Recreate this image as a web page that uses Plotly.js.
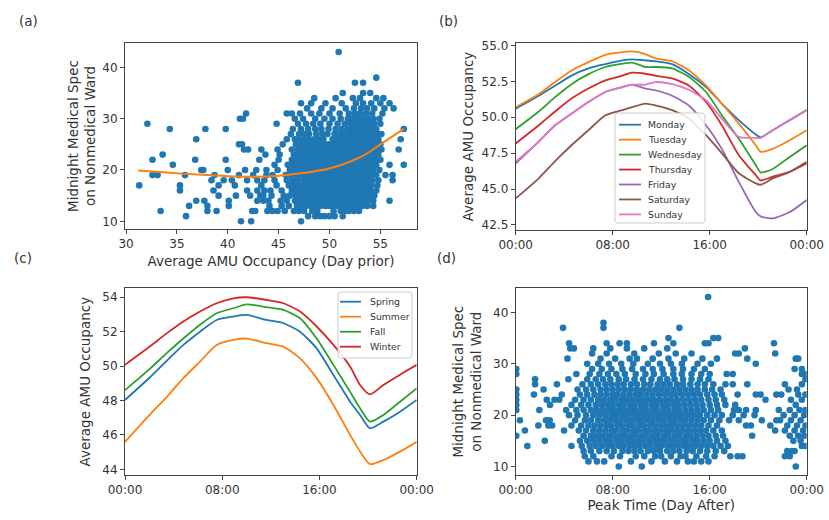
<!DOCTYPE html>
<html><head><meta charset="utf-8">
<script src="https://cdn.plot.ly/plotly-3.0.1.min.js"></script>
<style>html,body{margin:0;padding:0;background:#fff}#chart{width:829px;height:520px}</style>
</head><body><div id="chart"></div>
<script>
// ---------- (a) Midnight medical spec vs average AMU occupancy (day prior) ----------
// rows: [y value, [x values]]
const aRows = [
 [10, [41.3, 42.3, 47.2]],
 [11, [35.9, 47.9, 48.6, 49.1, 49.5, 50.0, 50.5, 51.3]],
 [12, [33.4, 38.0, 38.9, 42.4, 42.7, 43.9, 44.4, 44.9, 45.6, 46.5, 47.0, 47.5, 48.3, 48.8, 50.4, 51.1, 51.5, 51.9, 52.4, 52.9]],
 [13, [36.2, 38.0, 40.1, 44.1, 45.3, 46.0, 46.8, 47.3, 47.7, 48.2, 48.7, 49.1, 49.6, 50.0, 50.5, 50.9, 51.4, 51.8, 52.2, 52.7, 53.2, 53.7, 54.3]],
 [14, [36.9, 37.7, 40.1, 42.9, 43.5, 44.0, 45.2, 45.8, 46.6, 47.1, 47.5, 47.9, 48.4, 48.8, 49.3, 49.7, 50.1, 50.6, 51.0, 51.5, 51.9, 52.4, 52.8, 53.3, 53.8, 54.3, 55.9]],
 [15, [39.1, 40.8, 42.2, 43.2, 43.5, 44.3, 45.5, 46.1, 46.7, 47.2, 47.6, 48.0, 48.5, 48.9, 49.4, 49.8, 50.2, 50.7, 51.1, 51.6, 52.0, 52.5, 52.9, 53.4, 53.9, 54.4]],
 [16, [35.3, 38.6, 41.9, 42.9, 43.6, 44.2, 45.3, 46.3, 46.8, 47.3, 47.7, 48.1, 48.6, 49.0, 49.5, 49.9, 50.3, 50.8, 51.2, 51.7, 52.1, 52.6, 53.0, 53.5, 54.0, 54.6]],
 [17, [31.3, 35.3, 39.1, 40.7, 43.3, 44.8, 46.0, 46.5, 47.0, 47.4, 47.9, 48.3, 48.8, 49.2, 49.7, 50.1, 50.6, 51.0, 51.4, 51.9, 52.3, 52.8, 53.2, 53.7, 54.1, 54.7]],
 [18, [38.4, 39.6, 40.4, 41.9, 42.9, 43.6, 44.6, 45.8, 46.4, 46.9, 47.5, 47.9, 48.4, 48.8, 49.3, 49.7, 50.2, 50.6, 51.1, 51.5, 52.0, 52.4, 52.9, 53.3, 53.8, 54.2, 54.8, 56.2]],
 [19, [32.6, 33.1, 35.8, 38.7, 41.1, 42.5, 43.8, 44.4, 45.7, 46.2, 46.8, 47.3, 47.8, 48.2, 48.7, 49.1, 49.6, 50.0, 50.5, 50.9, 51.4, 51.8, 52.3, 52.7, 53.2, 53.6, 54.1, 54.6, 55.5, 56.2]],
 [20, [37.4, 37.6, 40.0, 41.7, 42.8, 43.8, 44.9, 46.1, 46.6, 47.1, 47.6, 48.0, 48.5, 48.9, 49.4, 49.8, 50.3, 50.7, 51.2, 51.6, 52.1, 52.5, 53.0, 53.4, 53.9, 54.3, 54.9]],
 [21, [34.6, 44.6, 45.9, 46.4, 46.9, 47.4, 47.8, 48.3, 48.7, 49.2, 49.6, 50.1, 50.5, 51.0, 51.4, 51.9, 52.3, 52.8, 53.2, 53.7, 54.1, 54.6, 55.9, 57.3]],
 [22, [32.6, 36.8, 39.8, 43.1, 45.0, 46.3, 46.8, 47.3, 47.7, 48.2, 48.6, 49.1, 49.5, 50.0, 50.4, 50.9, 51.3, 51.8, 52.2, 52.7, 53.1, 53.6, 54.0, 54.5, 55.0]],
 [23, [33.6, 43.7, 45.1, 46.5, 47.0, 47.5, 48.0, 48.4, 48.9, 49.3, 49.8, 50.2, 50.7, 51.1, 51.6, 52.0, 52.5, 52.9, 53.4, 53.8, 54.3, 54.8]],
 [24, [41.6, 42.0, 43.3, 44.9, 46.3, 46.9, 47.4, 47.9, 48.3, 48.8, 49.2, 49.7, 50.1, 50.6, 51.0, 51.5, 51.9, 52.4, 52.8, 53.3, 53.7, 54.2, 54.7, 55.1, 56.8]],
 [25, [41.1, 41.4, 45.4, 46.7, 47.2, 47.7, 48.1, 48.6, 49.0, 49.5, 49.9, 50.4, 50.8, 51.3, 51.7, 52.2, 52.6, 53.1, 53.5, 54.0, 54.5, 55.0]],
 [26, [36.9, 45.8, 46.6, 47.1, 47.6, 48.0, 48.5, 48.9, 49.4, 50.3, 50.7, 51.2, 51.6, 52.1, 52.5, 53.0, 53.4, 53.9, 54.3, 54.8, 57.0]],
 [27, [46.2, 47.0, 47.5, 48.0, 48.7, 49.3, 49.8, 50.5, 51.0, 51.5, 52.0, 52.4, 52.9, 53.3, 53.8, 54.2, 54.7, 55.1]],
 [28, [34.3, 37.8, 39.8, 46.4, 47.2, 47.9, 48.6, 49.2, 49.9, 50.6, 51.2, 51.8, 52.3, 52.8, 53.2, 53.7, 54.1, 54.6, 57.3]],
 [29, [32.1, 44.8, 46.9, 47.7, 48.4, 49.1, 50.0, 50.8, 51.5, 52.1, 52.6, 53.1, 53.5, 54.0, 54.4, 55.0]],
 [30, [41.2, 41.5, 46.6, 47.4, 48.6, 49.5, 50.3, 51.1, 51.8, 52.3, 52.8, 53.3, 53.8, 54.3, 54.9]],
 [31, [41.8, 45.8, 46.3, 47.1, 48.2, 49.0, 50.0, 51.0, 51.9, 52.5, 53.0, 53.6, 54.2, 55.2]],
 [32, [47.8, 49.2, 50.3, 51.6, 52.4, 53.1, 53.7, 54.4, 55.4, 56.3]],
 [33, [47.2, 48.2, 49.6, 51.2, 52.6, 53.3, 54.1, 55.0, 55.9]],
 [34, [48.5, 50.6, 52.3, 53.0, 54.6, 55.3]],
 [35, [51.3, 53.3, 54.0]],
 [37, [46.9, 52.5, 53.3]],
 [38, [54.6]],
 [43, [50.9]]
];
const aFitX = [31.2, 34, 37, 40, 43, 45, 47, 49, 50.2, 52, 53.5, 55, 57.3];
const aFitY = [19.9, 19.5, 19.1, 18.8, 18.7, 18.9, 19.3, 19.9, 20.4, 21.6, 23.0, 25.0, 28.0];

// ---------- (b) average AMU occupancy by weekday ----------
const bHours = [0, 1.9, 3.25, 4.6, 6, 7.4, 8.8, 9.6, 10.7, 11.5, 12.9, 14.3, 15.7, 17.0, 18.4, 19.8, 20.2, 21.2, 22.6, 24];
const bNames = ['Monday', 'Tuesday', 'Wednesday', 'Thursday', 'Friday', 'Saturday', 'Sunday'];
const monday    = [50.6, 51.5, 52.2, 52.9, 53.4, 53.7, 53.96, 54.03, 53.96, 53.9, 53.7, 53.0, 52.1, 50.95, 49.8, 48.8, 48.6, 49.1, 49.8, 50.5];
const tuesday   = [50.7, 51.6, 52.45, 53.26, 53.84, 54.35, 54.54, 54.58, 54.4, 54.1, 53.9, 53.26, 52.2, 50.95, 49.56, 48.05, 47.6, 47.8, 48.4, 49.1];
const wednesday = [49.17, 50.4, 51.4, 52.3, 53.0, 53.5, 53.73, 53.8, 53.5, 53.5, 53.4, 52.8, 51.76, 50.14, 48.5, 46.67, 46.16, 46.4, 47.24, 48.05];
const thursday  = [48.17, 49.44, 50.4, 51.3, 52.0, 52.57, 52.9, 53.1, 53.03, 52.9, 52.7, 52.2, 51.06, 49.44, 47.36, 45.97, 45.6, 45.86, 46.2, 46.78];
const friday    = [46.78, 48.3, 49.44, 50.25, 51.06, 51.76, 52.1, 52.27, 52.0, 51.88, 51.5, 50.8, 49.44, 47.8, 45.5, 43.4, 43.1, 42.96, 43.4, 44.24];
const saturday  = [44.35, 45.75, 46.95, 48.05, 49.1, 50.14, 50.5, 50.7, 50.95, 50.83, 50.5, 49.9, 48.75, 47.5, 46.1, 45.4, 45.3, 45.74, 46.2, 46.9];
const sunday    = [46.9, 48.3, 49.44, 50.25, 51.06, 51.76, 52.1, 52.27, 52.27, 52.45, 52.3, 51.9, 51.18, 49.9, 48.63, 48.56, 48.56, 49.1, 49.8, 50.5];

// ---------- (c) average AMU occupancy by season ----------
const cHours = [0, 2.06, 3.43, 4.8, 6.17, 7.54, 8.92, 10.0, 11.66, 13.03, 14.4, 15.77, 17.15, 18.52, 19.34, 20.16, 21.26, 22.63, 24];
const cNames = ['Spring', 'Summer', 'Fall', 'Winter'];
const spring = [48.03, 49.35, 50.3, 51.23, 52.0, 52.68, 52.88, 52.97, 52.68, 52.49, 52.0, 51.03, 49.48, 47.93, 47.16, 46.38, 46.77, 47.35, 48.03];
const summer = [45.6, 47.2, 48.2, 49.3, 50.26, 51.23, 51.52, 51.6, 51.33, 51.13, 50.45, 49.3, 47.74, 46.0, 45.03, 44.3, 44.54, 45.03, 45.6];
const fall   = [48.6, 49.85, 50.75, 51.6, 52.4, 53.07, 53.36, 53.58, 53.42, 53.26, 52.78, 51.6, 50.07, 48.5, 47.55, 46.77, 47.16, 47.93, 48.7];
const winter = [50.07, 51.15, 51.9, 52.59, 53.17, 53.65, 53.94, 54.0, 53.84, 53.65, 53.17, 52.3, 51.23, 49.97, 48.9, 48.35, 48.9, 49.5, 50.07];

// ---------- (d) midnight medical spec vs peak time (hours, day after) ----------
const dRows = [
 [10, [8.5, 10.4, 23.1]],
 [11, [6.0, 6.7, 7.3, 9.5, 11.2, 12.3, 13.3, 14.2, 14.7, 15.3, 15.9]],
 [12, [5.7, 6.4, 7.9, 8.6, 9.9, 10.6, 11.5, 12.0, 12.8, 13.6, 14.0, 14.9, 15.7, 16.4, 17.7, 18.3, 18.7, 22.2, 22.6]],
 [13, [5.6, 6.2, 6.9, 7.5, 8.1, 8.8, 9.3, 9.8, 10.3, 10.9, 11.4, 11.9, 12.5, 13.0, 13.5, 14.1, 14.6, 15.2, 15.8, 16.5, 17.2, 22.4, 22.8, 23.0]],
 [14, [0.96, 4.6, 5.45, 6.1, 6.6, 7.1, 7.6, 8.0, 8.5, 8.9, 9.4, 9.8, 10.2, 10.7, 11.1, 11.6, 12.0, 12.5, 12.9, 13.4, 13.9, 14.3, 14.8, 15.3, 15.8, 16.3, 16.9, 17.5, 23.6, 23.9]],
 [15, [2.4, 5.3, 5.9, 6.4, 6.9, 7.4, 7.8, 8.3, 8.7, 9.2, 9.6, 10.1, 10.5, 11.0, 11.4, 11.9, 12.3, 12.8, 13.2, 13.7, 14.1, 14.6, 15.0, 15.5, 16.0, 16.6, 17.3, 22.9, 23.5]],
 [16, [0.05, 5.6, 6.2, 6.7, 7.2, 7.7, 8.1, 8.6, 9.0, 9.5, 9.9, 10.4, 10.8, 11.3, 11.7, 12.2, 12.6, 13.1, 13.5, 14.0, 14.4, 14.9, 15.4, 15.9, 16.5, 17.1, 19.5, 22.6, 23.3, 23.8]],
 [17, [0.76, 3.99, 5.2, 5.8, 6.4, 6.9, 7.4, 7.9, 8.3, 8.8, 9.2, 9.7, 10.1, 10.6, 11.0, 11.5, 11.9, 12.4, 12.8, 13.3, 13.7, 14.2, 14.7, 15.2, 15.7, 16.3, 17.0, 21.4, 22.2, 23.0, 23.7]],
 [18, [1.87, 2.7, 3.0, 4.6, 5.4, 6.0, 6.5, 7.0, 7.5, 7.9, 8.4, 8.8, 9.3, 9.7, 10.2, 10.6, 11.1, 11.5, 12.0, 12.4, 12.9, 13.3, 13.8, 14.3, 14.8, 15.3, 15.9, 16.6, 19.0, 19.4, 21.0, 22.4, 23.2, 23.9]],
 [19, [0.35, 2.5, 2.8, 4.9, 5.7, 6.2, 6.8, 7.3, 7.7, 8.2, 8.6, 9.1, 9.5, 10.0, 10.4, 10.9, 11.3, 11.8, 12.2, 12.7, 13.1, 13.6, 14.0, 14.5, 15.0, 15.5, 16.1, 16.8, 17.6, 18.4, 20.3, 21.5, 21.8, 22.7, 23.5]],
 [20, [4.4, 5.1, 5.8, 6.4, 6.9, 7.4, 7.9, 8.3, 8.8, 9.2, 9.7, 10.1, 10.6, 11.0, 11.5, 11.9, 12.4, 12.8, 13.3, 13.7, 14.2, 14.7, 15.2, 15.8, 16.4, 17.0, 17.9, 18.8, 19.7, 22.1, 23.0, 23.8]],
 [21, [0.05, 1.95, 4.16, 5.0, 5.6, 6.2, 6.7, 7.2, 7.7, 8.1, 8.6, 9.0, 9.5, 9.9, 10.4, 10.8, 11.3, 11.7, 12.2, 12.6, 13.1, 13.5, 14.0, 14.5, 15.0, 15.5, 16.1, 16.7, 18.0, 18.4, 19.0, 19.8, 21.7, 22.6, 23.4, 23.9]],
 [22, [0.05, 2.83, 4.6, 5.4, 6.0, 6.6, 7.1, 7.6, 8.0, 8.5, 8.9, 9.4, 9.8, 10.3, 10.7, 11.2, 11.6, 12.1, 12.5, 13.0, 13.4, 13.9, 14.4, 14.9, 15.4, 16.0, 16.6, 17.3, 18.1, 23.1]],
 [23, [0.05, 2.56, 3.2, 3.6, 4.9, 5.6, 6.2, 6.8, 7.3, 7.8, 8.2, 8.7, 9.1, 9.6, 10.1, 10.5, 11.0, 11.4, 11.9, 12.4, 12.8, 13.3, 13.8, 14.3, 14.8, 15.3, 15.9, 16.5, 17.2, 20.6, 22.7, 23.6]],
 [24, [0.05, 1.5, 3.8, 5.3, 5.9, 6.5, 7.0, 7.5, 8.0, 8.4, 8.9, 9.4, 9.9, 10.3, 10.8, 11.3, 11.8, 12.3, 12.8, 13.2, 13.7, 14.2, 14.7, 15.2, 15.8, 16.4, 17.0, 18.3, 19.8, 20.2, 21.5, 21.9, 23.3, 23.9]],
 [25, [0.05, 2.3, 5.1, 5.8, 6.4, 7.0, 7.5, 8.0, 8.5, 9.0, 9.5, 10.0, 10.5, 11.0, 11.5, 12.0, 12.5, 13.0, 13.5, 14.0, 14.5, 15.0, 15.6, 16.2, 16.9, 22.5, 23.2]],
 [26, [1.6, 3.4, 5.5, 6.2, 6.8, 7.4, 7.9, 8.4, 8.9, 9.5, 10.0, 10.6, 11.1, 11.7, 12.2, 12.7, 13.3, 13.8, 14.4, 15.0, 15.6, 16.3, 17.3, 17.9, 19.1, 22.2, 23.6]],
 [27, [1.6, 4.35, 5.9, 6.6, 7.2, 7.8, 8.5, 9.1, 9.8, 10.5, 11.2, 11.9, 12.5, 13.1, 13.8, 14.5, 15.2, 15.9, 23.9]],
 [28, [0.05, 5.0, 6.1, 6.9, 7.6, 8.3, 9.0, 9.9, 10.7, 11.4, 12.2, 13.0, 13.7, 14.5, 15.3, 16.0, 17.4, 17.9, 23.6, 23.9]],
 [29, [0.05, 6.3, 7.1, 7.9, 8.8, 9.6, 10.5, 11.3, 12.1, 13.0, 13.8, 14.7, 15.6, 23.0, 23.6]],
 [30, [5.9, 6.8, 7.7, 8.7, 9.7, 10.9, 11.9, 12.8, 13.7, 15.0, 16.1, 19.8]],
 [31, [4.27, 7.0, 8.2, 9.4, 10.0, 11.3, 12.6, 13.9, 15.4, 16.6, 19.1, 23.1, 23.3]],
 [32, [6.3, 7.5, 9.78, 11.8, 13.2, 14.5, 18.1, 18.4, 21.4]],
 [33, [4.5, 4.8, 6.4, 7.8, 9.17, 10.6, 12.5, 18.9]],
 [34, [4.4, 7.5, 8.57, 9.17, 11.4, 13.0, 15.6, 15.9, 21.3]],
 [35, [12.6, 16.3, 16.7]],
 [37, [3.9, 7.24, 13.5]],
 [38, [7.24]],
 [43, [15.87]]
];

const timeTickVals = [0, 8, 16, 24];
const timeTickText = ['00:00', '08:00', '16:00', '00:00'];
const tab10 = ['#1f77b4', '#ff7f0e', '#2ca02c', '#d62728', '#9467bd', '#8c564b', '#e377c2'];

// ---------- build ----------
function flatten(rows) {
  const xs = [], ys = [];
  rows.forEach(r => r[1].forEach(x => { xs.push(x); ys.push(r[0]); }));
  return [xs, ys];
}
const [aX, aY] = flatten(aRows);
const [dX, dY] = flatten(dRows);

const W = 829, H = 520;
const fx = p => p / W, fy = p => 1 - p / H;
const FONT = 'DejaVu Sans', TXT = '#333', AX = '#444';
const DOT = 6.6;

const traces = [];
traces.push({type: 'scatter', mode: 'markers', x: aX, y: aY, xaxis: 'x', yaxis: 'y',
  marker: {color: tab10[0], size: DOT, line: {width: 0}}, showlegend: false, hoverinfo: 'skip'});
traces.push({type: 'scatter', mode: 'lines', x: aFitX, y: aFitY, xaxis: 'x', yaxis: 'y',
  line: {color: tab10[1], width: 2, shape: 'spline', smoothing: 0.8}, showlegend: false});
const bSeries = [monday, tuesday, wednesday, thursday, friday, saturday, sunday];
bSeries.forEach((s, i) => traces.push({type: 'scatter', mode: 'lines', name: bNames[i], x: bHours, y: s,
  xaxis: 'x2', yaxis: 'y2', line: {color: tab10[i], width: 1.8, shape: 'spline', smoothing: 0.6}, showlegend: false}));
const cSeries = [spring, summer, fall, winter];
cSeries.forEach((s, i) => traces.push({type: 'scatter', mode: 'lines', name: cNames[i], x: cHours, y: s,
  xaxis: 'x3', yaxis: 'y3', line: {color: tab10[i], width: 1.8, shape: 'spline', smoothing: 0.6}, showlegend: false}));
traces.push({type: 'scatter', mode: 'markers', x: dX, y: dY, xaxis: 'x4', yaxis: 'y4',
  marker: {color: tab10[0], size: DOT, line: {width: 0}}, showlegend: false, hoverinfo: 'skip'});

function axis(extra) {
  return Object.assign({
    showline: true, mirror: true, linecolor: AX, linewidth: 1,
    ticks: 'outside', ticklen: 4, tickwidth: 1, tickcolor: AX,
    showgrid: false, zeroline: false,
    tickfont: {family: FONT, size: 12, color: TXT}
  }, extra);
}
const titleFont = {family: FONT, size: 13.5, color: TXT};

// manual legends (matplotlib-style boxes)
const shapes = [], annotations = [];
function legend(names, colors, box, firstY, step, lineX0, lineX1, textX) {
  const [x0, y0, x1, y1] = box, r = 3;
  const path = `M ${fx(x0 + r)} ${fy(y0)} L ${fx(x1 - r)} ${fy(y0)} Q ${fx(x1)} ${fy(y0)} ${fx(x1)} ${fy(y0 + r)} ` +
    `L ${fx(x1)} ${fy(y1 - r)} Q ${fx(x1)} ${fy(y1)} ${fx(x1 - r)} ${fy(y1)} L ${fx(x0 + r)} ${fy(y1)} ` +
    `Q ${fx(x0)} ${fy(y1)} ${fx(x0)} ${fy(y1 - r)} L ${fx(x0)} ${fy(y0 + r)} Q ${fx(x0)} ${fy(y0)} ${fx(x0 + r)} ${fy(y0)} Z`;
  shapes.push({type: 'path', xref: 'paper', yref: 'paper', path: path,
    fillcolor: 'rgba(255,255,255,0.85)', line: {color: '#cccccc', width: 1}, layer: 'above'});
  names.forEach((n, i) => {
    const yy = firstY + i * step;
    shapes.push({type: 'line', xref: 'paper', yref: 'paper', x0: fx(lineX0), x1: fx(lineX1), y0: fy(yy), y1: fy(yy),
      line: {color: colors[i], width: 1.8}, layer: 'above'});
    annotations.push({xref: 'paper', yref: 'paper', x: fx(textX), y: fy(yy), xanchor: 'left', yanchor: 'middle',
      text: n, showarrow: false, font: {family: FONT, size: 9.3, color: TXT}});
  });
}
legend(bNames, tab10, [615, 113, 705, 223], 124.7, 14.95, 619, 641, 646);
legend(cNames, tab10, [338, 292, 412, 358], 301.7, 15, 340, 361, 368);

// panel labels
[['(a)', 16.7, 21], ['(b)', 436.7, 21], ['(c)', 11.7, 258], ['(d)', 435, 258]].forEach(p => {
  annotations.push({xref: 'paper', yref: 'paper', x: fx(p[1]), y: fy(p[2]), xanchor: 'left', yanchor: 'middle',
    text: p[0], showarrow: false, font: {family: FONT, size: 13.5, color: TXT}});
});

const layout = {
  width: W, height: H, margin: {l: 0, r: 0, t: 0, b: 0},
  paper_bgcolor: '#fff', plot_bgcolor: '#fff', showlegend: false,
  font: {family: FONT, color: TXT},
  xaxis: axis({domain: [fx(125), fx(417)], anchor: 'y', range: [29.9, 58.6], tickvals: [30, 35, 40, 45, 50, 55],
    title: {text: 'Average AMU Occupancy (Day prior)', font: titleFont, standoff: 6}}),
  yaxis: axis({domain: [fy(229), fy(43)], anchor: 'x', range: [8.5, 44.75], tickvals: [10, 20, 30, 40],
    title: {text: 'Midnight Medical Spec<br>on Nonmedical Ward', font: titleFont, standoff: 3}}),
  xaxis2: axis({domain: [fx(515.7), fx(806.7)], anchor: 'y2', range: [0, 24], tickvals: timeTickVals, ticktext: timeTickText}),
  yaxis2: axis({domain: [fy(230), fy(43)], anchor: 'x2', range: [42.15, 55.17], tickvals: [42.5, 45, 47.5, 50, 52.5, 55],
    ticktext: ['42.5', '45.0', '47.5', '50.0', '52.5', '55.0'],
    title: {text: 'Average AMU Occupancy', font: titleFont, standoff: 4}}),
  xaxis3: axis({domain: [fx(125), fx(416.7)], anchor: 'y3', range: [0, 24], tickvals: timeTickVals, ticktext: timeTickText}),
  yaxis3: axis({domain: [fy(475), fy(288.3)], anchor: 'x3', range: [43.67, 54.52], tickvals: [44, 46, 48, 50, 52, 54],
    title: {text: 'Average AMU Occupancy', font: titleFont, standoff: 8}}),
  xaxis4: axis({domain: [fx(515.7), fx(806.7)], anchor: 'y4', range: [0, 24], tickvals: timeTickVals, ticktext: timeTickText,
    title: {text: 'Peak Time (Day After)', font: titleFont, standoff: 3}}),
  yaxis4: axis({domain: [fy(475), fy(288.3)], anchor: 'x4', range: [8.35, 44.7], tickvals: [10, 20, 30, 40],
    title: {text: 'Midnight Medical Spec<br>on Nonmedical Ward', font: titleFont, standoff: 8}}),
  shapes: shapes, annotations: annotations
};

Plotly.newPlot('chart', traces, layout, {staticPlot: true, displayModeBar: false});
</script></body></html>
